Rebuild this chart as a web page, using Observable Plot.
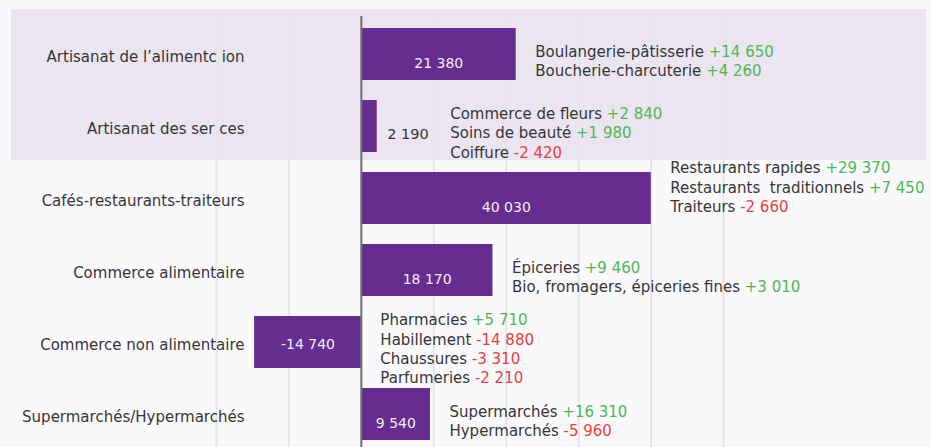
<!DOCTYPE html>
<html>
<head>
<meta charset="utf-8">
<script src="https://cdn.jsdelivr.net/npm/d3@7"></script>
<script src="https://cdn.jsdelivr.net/npm/@observablehq/plot@0.6"></script>
<style>
  html, body { margin: 0; padding: 0; background: #f9f9fc; }
  #chart svg { display: block; overflow: visible; }
</style>
</head>
<body>
<div id="chart"></div>
<script>
// ---- data ----
const categories = [
  "Artisanat de l’alimentc ion",
  "Artisanat des ser ces",
  "Cafés-restaurants-traiteurs",
  "Commerce alimentaire",
  "Commerce non alimentaire",
  "Supermarchés/Hypermarchés"
];
const totals = [21380, 2190, 40030, 18170, -14740, 9540];
const detailNames = [
  ["Boulangerie-pâtisserie", "Boucherie-charcuterie"],
  ["Commerce de fleurs", "Soins de beauté", "Coiffure"],
  ["Restaurants rapides", "Restaurants  traditionnels", "Traiteurs"],
  ["Épiceries", "Bio, fromagers, épiceries fines"],
  ["Pharmacies", "Habillement", "Chaussures", "Parfumeries"],
  ["Supermarchés", "Hypermarchés"]
];
const detailValues = [
  [14650, 4260],
  [2840, 1980, -2420],
  [29370, 7450, -2660],
  [9460, 3010],
  [5710, -14880, -3310, -2210],
  [16310, -5960]
];
const highlighted = [categories[0], categories[1]];
const gridTicks = [-20000, -10000, 10000, 20000, 30000, 40000, 50000];
const xDomain = [-20000, 50000];

// ---- build table ----
const rows = categories.map((cat, i) => ({
  cat, total: totals[i], names: detailNames[i], values: detailValues[i], i
}));

const loc = d3.formatLocale({decimal: ",", thousands: " ", grouping: [3], currency: ["", ""], minus: "-"});
const fmt = loc.format(",");
const fmtSigned = loc.format("+,");

const FONT = "DejaVu Sans, sans-serif";
const TEXT = "#363636";
const GREEN = "#4db84f";
const RED = "#e8413b";
const PURPLE = "#652d8f";

// layout offsets (pixels) in code
const detailGap = {1: 73};                  // gap after bar end, default 19
const detailDy = {2: -12};                  // block vertical offset, default 5.5
const valueDy = {4: 2.5};                   // value label offset, default 9

function nudge(fn) {
  return (index, scales, values, dims, ctx, next) => {
    const g = next(index, scales, values, dims, ctx);
    g.querySelectorAll("text").forEach((t, j) => {
      const [ox, oy] = fn(index[j]);
      t.setAttribute("transform", (t.getAttribute("transform") || "") + ` translate(${ox},${oy})`);
    });
    return g;
  };
}

const svgNS = "http://www.w3.org/2000/svg";
const inside = rows.filter(r => r.i !== 1);
const outside = rows.filter(r => r.i === 1);

const chart = Plot.plot({
  width: 931,
  height: 447,
  marginLeft: 216,
  marginRight: 208,
  marginTop: 16,
  marginBottom: 0,
  style: {background: "transparent", fontFamily: FONT, overflow: "visible"},
  x: {domain: xDomain, axis: null},
  y: {type: "band", domain: categories, range: [17, 450], paddingInner: 0.28, paddingOuter: 0.14, axis: null},
  marks: [
    // highlighted group band
    Plot.barX(highlighted, {
      y: d => d, x1: xDomain[0], x2: xDomain[1],
      insetLeft: -205, insetRight: -203, insetTop: -19, insetBottom: -8,
      fill: "#ebe5f1"
    }),
    Plot.ruleX(gridTicks, {stroke: "#e5e5ea", strokeWidth: 2}),
    Plot.barX(rows, {x: "total", y: "cat", fill: PURPLE}),
    Plot.ruleX([0], {stroke: "#6e6e70", strokeWidth: 2}),
    // category labels
    Plot.text(categories, {
      y: d => d, frameAnchor: "left", textAnchor: "end", dx: 28, dy: 2.5,
      fill: TEXT, fontSize: 15, fontFamily: FONT
    }),
    // values inside bars
    Plot.text(inside, {
      x: r => r.total / 2, y: "cat", text: r => fmt(r.total),
      fill: "#f3eff8", fontSize: 14, fontFamily: FONT,
      render: nudge(k => [0, valueDy[inside[k].i] ?? 9])
    }),
    // value outside small bar
    Plot.text(outside, {
      x: "total", y: "cat", text: r => fmt(r.total), textAnchor: "start", dx: 10, dy: 8,
      fill: TEXT, fontSize: 14.5, fontFamily: FONT
    }),
    // detail blocks
    Plot.text(rows, {
      x: r => Math.max(r.total, 0), y: "cat", text: r => r.names.join("\n"),
      textAnchor: "start", lineHeight: 1.3, fill: TEXT, fontSize: 15, fontFamily: FONT,
      render: (index, scales, values, dims, ctx, next) => {
        const g = next(index, scales, values, dims, ctx);
        g.querySelectorAll("text").forEach((t, j) => {
          const r = rows[index[j]];
          const ox = detailGap[r.i] ?? 19;
          const oy = detailDy[r.i] ?? 5.5;
          t.setAttribute("transform", (t.getAttribute("transform") || "") + ` translate(${ox},${oy})`);
          t.querySelectorAll("tspan").forEach((ts, k) => {
            const v = r.values[k];
            const s = document.createElementNS(svgNS, "tspan");
            s.setAttribute("fill", v >= 0 ? GREEN : RED);
            s.textContent = " " + fmtSigned(v);
            ts.appendChild(s);
          });
        });
        return g;
      }
    })
  ]
});

document.getElementById("chart").appendChild(chart);
</script>
</body>
</html>
